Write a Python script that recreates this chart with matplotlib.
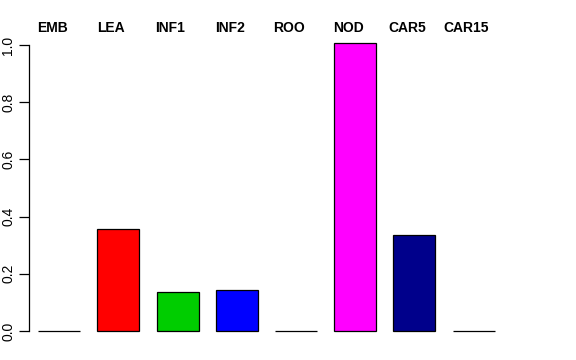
import matplotlib
matplotlib.use("Agg")
import matplotlib.pyplot as plt

plt.rcParams['font.family'] = ['Liberation Sans', 'DejaVu Sans']

# data
categories = ["EMB", "LEA", "INF1", "INF2", "ROO", "NOD", "CAR5", "CAR15"]
values = [0.0, 0.357, 0.136, 0.143, 0.0, 1.006, 0.336, 0.0]
colors = ["white", "#FF0000", "#00CD00", "#0000FF", "white", "#FF00FF", "#00008B", "white"]
yticks = [0.0, 0.2, 0.4, 0.6, 0.8, 1.0]

fig = plt.figure(figsize=(5.76, 3.6), dpi=100)
# axes placed in pixel terms: left axis line at x=29px, y=0 at 331px
ax = fig.add_axes([29 / 576, 17.6 / 360, (560 - 29) / 576, 310.6 / 360])

x = list(range(len(categories)))
ax.bar(x, values, width=0.71, color=colors, edgecolor="black", linewidth=0.9)

ax.set_xlim(-0.509, (560 - 59.15) / 59.2)
ax.set_ylim(-0.04, 1.046)

for s in ["top", "right", "bottom"]:
    ax.spines[s].set_visible(False)
ax.spines["left"].set_bounds(0, 1.0)
ax.spines["left"].set_linewidth(0.9)
ax.set_xticks([])
ax.set_yticks(yticks)
ax.set_yticklabels(["%.1f" % t for t in yticks], rotation=90, va="center", fontsize=10)
ax.tick_params(axis="y", length=7, width=0.9, pad=3)

# category labels on top
for xi, lab in zip(x, categories):
    ax.text(xi - 0.12, 1.06, lab, ha="center", va="center", fontsize=10,
            fontweight="bold", clip_on=False)

fig.savefig("out.png", dpi=100)
